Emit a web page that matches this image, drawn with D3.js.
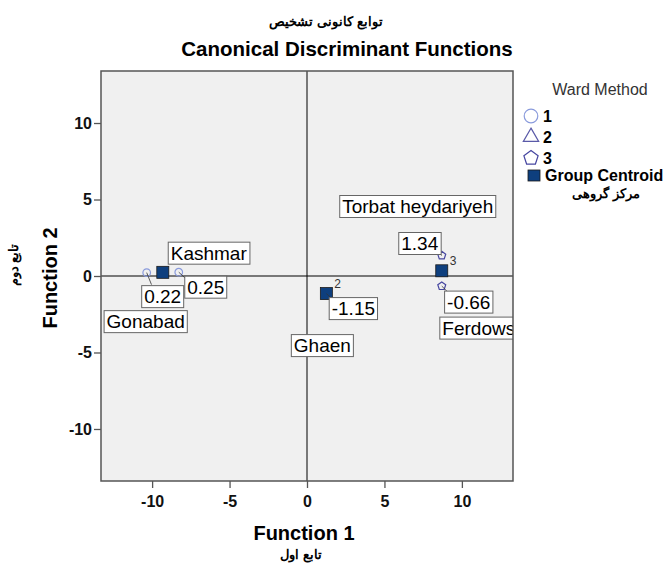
<!DOCTYPE html>
<html>
<head>
<meta charset="utf-8">
<script src="https://cdn.jsdelivr.net/npm/d3@7"></script>
<style>
  body { margin: 0; background: #fff; }
  text { font-family: "Liberation Sans", Arial, sans-serif; }
</style>
</head>
<body>
<svg width="670" height="566"></svg>
<script>
// cases (cities) with their discriminant scores
var caseNames = ["Kashmar", "Gonabad", "Ghaen", "Torbat heydariyeh", "Ferdows"];
var caseGroup = [1, 1, 2, 3, 3];
var caseF1 = [-8.28, -10.35, 1.25, 8.7, 8.7];
var caseF2 = [0.25, 0.22, -1.15, 1.34, -0.66];

// group centroids
var centroidGroup = [1, 2, 3];
var centroidF1 = [-9.31, 1.25, 8.7];
var centroidF2 = [0.24, -1.15, 0.34];

var tickValues = [-10, -5, 0, 5, 10];
var legendLabels = ["1", "2", "3"];

// label offsets from each case point (pixels): [value dx, dy, name dx, dy]
var labelOffsets = [[27, 15, 30, -19], [16, 24, -1, 49], [27, 15, -4, 52], [-22, -12, -24, -49], [27, 16, 37, 42]];

var svg = d3.select("svg");
var pLeft = 101, pRight = 513, pTop = 71, pBottom = 481;

var x = d3.scaleLinear().domain([-13.3, 13.3]).range([pLeft, pRight]);
var y = d3.scaleLinear().domain([-13.4, 13.4]).range([pBottom, pTop]);

// titles
svg.append("text").attr("x", 326).attr("y", 26).attr("text-anchor", "middle")
    .style("font-size", "13px").style("font-weight", "bold").text("توابع کانونی تشخیص");
svg.append("text").attr("x", 347).attr("y", 56).attr("text-anchor", "middle")
    .style("font-size", "20.5px").style("font-weight", "bold").text("Canonical Discriminant Functions");

// plot background
svg.append("rect").attr("x", pLeft).attr("y", pTop).attr("width", pRight - pLeft).attr("height", pBottom - pTop)
    .attr("fill", "#f0f0f0");

svg.append("clipPath").attr("id", "clip").append("rect")
    .attr("x", pLeft).attr("y", pTop).attr("width", pRight - pLeft).attr("height", pBottom - pTop);

var plot = svg.append("g").attr("clip-path", "url(#clip)");

// reference lines
plot.append("line").attr("x1", x(0)).attr("x2", x(0)).attr("y1", pTop).attr("y2", pBottom).attr("stroke", "#000");
plot.append("line").attr("x1", pLeft).attr("x2", pRight).attr("y1", y(0)).attr("y2", y(0)).attr("stroke", "#000");

// axes
var xAxis = svg.append("g").attr("transform", "translate(0," + pBottom + ")")
    .call(d3.axisBottom(x).tickValues(tickValues).tickFormat(String).tickSize(7).tickPadding(4));
var yAxis = svg.append("g").attr("transform", "translate(" + pLeft + ",0)")
    .call(d3.axisLeft(y).tickValues(tickValues).tickFormat(String).tickSize(7).tickPadding(2));
[xAxis, yAxis].forEach(function(a) {
    a.select(".domain").remove();
    a.selectAll("line").attr("stroke", "#555").attr("stroke-width", 1.3);
    a.selectAll("text").style("font-size", "16px").style("font-weight", "bold")
        .style("font-family", "Liberation Sans, Arial, sans-serif").attr("fill", "#111");
});
xAxis.selectAll("text").attr("dy", "0.95em");

svg.append("rect").attr("x", pLeft).attr("y", pTop).attr("width", pRight - pLeft).attr("height", pBottom - pTop)
    .attr("fill", "none").attr("stroke", "#555").attr("stroke-width", 1.5);

// axis titles
svg.append("text").attr("x", 304).attr("y", 540).attr("text-anchor", "middle")
    .style("font-size", "20px").style("font-weight", "bold").text("Function 1");
svg.append("text").attr("x", 301).attr("y", 559).attr("text-anchor", "middle")
    .style("font-size", "13px").style("font-weight", "bold").text("تابع اول");
svg.append("text").attr("transform", "translate(57,278) rotate(-90)").attr("text-anchor", "middle")
    .style("font-size", "20px").style("font-weight", "bold").text("Function 2");
svg.append("text").attr("transform", "translate(18,265) rotate(-90)").attr("text-anchor", "middle")
    .style("font-size", "13px").style("font-weight", "bold").text("تابع دوم");

// marker shapes by group
function pentagon(r) {
    var pts = d3.range(5).map(function(i) {
        var a = -Math.PI / 2 + i * 2 * Math.PI / 5;
        return [r * Math.cos(a), r * Math.sin(a)];
    });
    return "M" + pts.join("L") + "Z";
}
function marker(g, r) {
    if (g === 1) return d3.symbol().type(d3.symbolCircle).size(Math.PI * r * r)();
    if (g === 2) return d3.symbol().type(d3.symbolTriangle).size(r * r * 2.2)();
    return pentagon(r * 1.1);
}
var markColor = {1: "#8a9bdc", 2: "#5a5aa8", 3: "#4646a0"};

var cases = caseNames.map(function(n, i) {
    return {name: n, g: caseGroup[i], f1: caseF1[i], f2: caseF2[i], off: labelOffsets[i]};
});
var centroids = centroidGroup.map(function(g, i) {
    return {g: g, f1: centroidF1[i], f2: centroidF2[i]};
});

plot.selectAll(".case").data(cases).enter().append("path")
    .attr("class", "case")
    .attr("transform", function(d) { return "translate(" + x(d.f1) + "," + y(d.f2) + ")"; })
    .attr("d", function(d) { return marker(d.g, 3.8); })
    .attr("fill", "none").attr("stroke", function(d) { return markColor[d.g]; }).attr("stroke-width", 1.2);

plot.selectAll(".cent").data(centroids).enter().append("rect")
    .attr("class", "cent")
    .attr("x", function(d) { return x(d.f1) - 6; })
    .attr("y", function(d) { return y(d.f2) - 6; })
    .attr("width", 12).attr("height", 12)
    .attr("fill", "#0e3f7e").attr("stroke", "#1a1a1a").attr("stroke-width", 0.8);

// group 1's number sits under the Kashmar box in the original, so only 2 and 3 show
plot.selectAll(".cnum").data(centroids.filter(function(d) { return d.g !== 1; })).enter().append("text")
    .attr("x", function(d) { return x(d.f1) + 8; })
    .attr("y", function(d) { return y(d.f2) - 6; })
    .style("font-size", "12px").attr("fill", "#333")
    .text(function(d) { return d.g; });

// labelled boxes
function box(cx, cy, txt) {
    var t = plot.append("text").attr("x", cx).attr("y", cy).attr("text-anchor", "middle")
        .attr("dy", "0.36em").style("font-size", "19px").attr("fill", "#000").text(txt);
    var b = t.node().getBBox();
    plot.insert("rect", function() { return t.node(); })
        .attr("x", b.x - 2.5).attr("y", cy - 11).attr("width", b.width + 5).attr("height", 22)
        .attr("fill", "#fff").attr("stroke", "#666").attr("stroke-width", 1);
    return b;
}
cases.forEach(function(d) {
    var px = x(d.f1), py = y(d.f2);
    var vx = px + d.off[0], vy = py + d.off[1];
    plot.append("line").attr("x1", px).attr("y1", py).attr("x2", px + d.off[0] * 0.3).attr("y2", py + d.off[1] * 0.5)
        .attr("stroke", "#333").attr("stroke-width", 0.8);
    box(vx, vy, d.f2.toFixed(2));
    box(px + d.off[2], py + d.off[3], d.name);
});

// legend
var lg = svg.append("g");
lg.append("text").attr("x", 600).attr("y", 95).attr("text-anchor", "middle")
    .style("font-size", "16px").attr("fill", "#333").text("Ward Method");
legendLabels.forEach(function(l, i) {
    var g = i + 1, cy = 116 + i * 21;
    lg.append("path").attr("transform", "translate(531," + cy + ")")
        .attr("d", marker(g, 6.8))
        .attr("fill", "none").attr("stroke", markColor[g]).attr("stroke-width", 1.2);
    lg.append("text").attr("x", 543).attr("y", cy + 6).style("font-size", "16px")
        .style("font-weight", "bold").text(l);
});
lg.append("rect").attr("x", 528).attr("y", 170).attr("width", 12).attr("height", 11)
    .attr("fill", "#0e3f7e").attr("stroke", "#1a1a1a").attr("stroke-width", 0.8);
lg.append("text").attr("x", 545).attr("y", 181).style("font-size", "16px")
    .style("font-weight", "bold").text("Group Centroid");
lg.append("text").attr("x", 606).attr("y", 198).attr("text-anchor", "middle")
    .style("font-size", "12.5px").style("font-weight", "bold").text("مرکز گروهی");
</script>
</body>
</html>
